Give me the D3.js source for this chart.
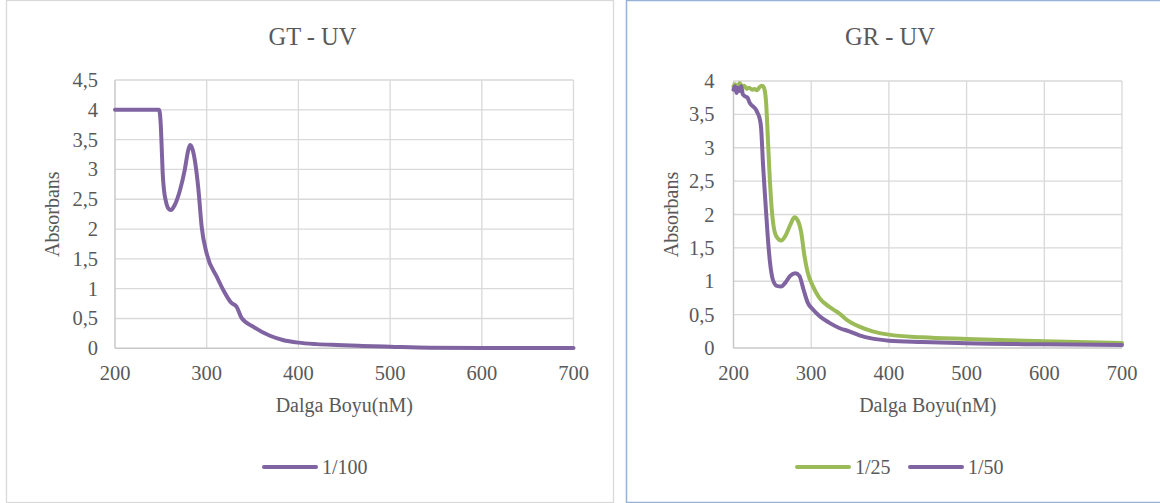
<!DOCTYPE html>
<html><head><meta charset="utf-8">
<script src="https://cdn.jsdelivr.net/npm/d3@7/dist/d3.min.js"></script>
<style>
html,body{margin:0;padding:0;background:#fff;}
svg{display:block;}
</style></head>
<body>
<svg id="c" width="1160" height="503" font-family="'Liberation Serif', 'Times New Roman', 'DejaVu Serif', serif"></svg>
<script>
// ---- data ----
const xTicks = [200, 300, 400, 500, 600, 700];
const yTicksGT = [0, 0.5, 1, 1.5, 2, 2.5, 3, 3.5, 4, 4.5];
const yTicksGR = [0, 0.5, 1, 1.5, 2, 2.5, 3, 3.5, 4];

const gtWave = [200,248,249.8,250.9,252,253.4,255.6,258,261,265,271,276,280,282,284.7,287.6,291,294.5,300,311,318,327,332.5,338,351,369,383,400,420,442,470,500,543,600,650,700];
const gt100  = [4.0,4.0,3.78,3.38,2.94,2.66,2.46,2.35,2.32,2.40,2.66,2.99,3.33,3.41,3.33,3.10,2.66,2.04,1.59,1.2,0.98,0.76,0.70,0.51,0.36,0.21,0.14,0.095,0.07,0.055,0.04,0.027,0.01,0.005,0.004,0.004];

const grWave25 = [200,202,205,208,211,214,217,220,224,227,230,233,236,238,240,242,244,246,248.5,251.4,255.7,261.3,266.8,272.9,278.4,282.7,287,291.3,295.5,302,310.5,323,332,336,345,362,379,400,443,500,600,700];
const gr25     = [3.92,3.95,3.9,3.97,3.92,3.93,3.88,3.9,3.87,3.88,3.86,3.9,3.93,3.92,3.87,3.67,3.2,2.7,2.19,1.84,1.66,1.61,1.68,1.84,1.96,1.91,1.74,1.38,1.13,0.93,0.75,0.62,0.55,0.52,0.43,0.32,0.25,0.20,0.16,0.135,0.10,0.075];

const grWave50 = [200,202,204,206,208,210,212,215,218,221,225,229,231,233.4,235.5,238,241,244,247,250.5,255.7,261.3,266.8,272.9,279.7,284.8,290,295.5,302,310.5,323,336,349,362,379,400,443,500,600,700];
const gr50     = [3.87,3.92,3.82,3.9,3.85,3.92,3.8,3.77,3.75,3.67,3.62,3.57,3.52,3.45,3.3,2.75,2.2,1.68,1.28,1.03,0.93,0.92,0.98,1.08,1.12,1.08,0.88,0.68,0.58,0.48,0.38,0.30,0.25,0.19,0.14,0.11,0.09,0.07,0.055,0.045];

const fmt = d => String(d).replace('.', ',');
const svg = d3.select('#c');
const TXT = '#595959';

function drawChart(cfg) {
  const g = svg.append('g');
  // panel border
  g.append('rect').attr('x', cfg.panel[0]).attr('y', cfg.panel[1])
    .attr('width', cfg.panel[2]).attr('height', cfg.panel[3])
    .attr('fill', '#fff').attr('stroke', cfg.border).attr('stroke-width', cfg.borderW);

  const x = d3.scaleLinear().domain([200, 700]).range(cfg.xr);
  const y = d3.scaleLinear().domain([0, cfg.ymax]).range(cfg.yr);

  // gridlines
  g.append('g').selectAll('line').data(cfg.yTicks.filter(d => d > 0)).join('line')
    .attr('x1', cfg.xr[0]).attr('x2', cfg.xr[1])
    .attr('y1', d => y(d)).attr('y2', d => y(d))
    .attr('stroke', '#d9d9d9').attr('stroke-width', 1.3);
  g.append('g').selectAll('line').data(xTicks.filter(d => d > 200)).join('line')
    .attr('x1', d => x(d)).attr('x2', d => x(d))
    .attr('y1', cfg.yr[0]).attr('y2', cfg.yr[1])
    .attr('stroke', '#d9d9d9').attr('stroke-width', 1.3);
  // axis lines
  g.append('line').attr('x1', cfg.xr[0]).attr('x2', cfg.xr[1]).attr('y1', cfg.yr[0]).attr('y2', cfg.yr[0])
    .attr('stroke', '#c8c8c8').attr('stroke-width', 1.5);
  g.append('line').attr('x1', cfg.xr[0]).attr('x2', cfg.xr[0]).attr('y1', cfg.yr[0]).attr('y2', cfg.yr[1])
    .attr('stroke', '#c8c8c8').attr('stroke-width', 1.5);

  // tick labels
  g.append('g').selectAll('text').data(cfg.yTicks).join('text')
    .attr('x', cfg.xr[0] - cfg.yLabGap).attr('y', d => y(d) + 7)
    .attr('text-anchor', 'end').attr('font-size', 20.5).attr('fill', TXT).text(fmt);
  g.append('g').selectAll('text').data(xTicks).join('text')
    .attr('x', d => x(d)).attr('y', 380)
    .attr('text-anchor', 'middle').attr('font-size', 20.5).attr('fill', TXT).text(d => d);

  // titles
  g.append('text').attr('x', cfg.titleX).attr('y', 45).attr('text-anchor', 'middle')
    .attr('font-size', 24.5).attr('fill', TXT).text(cfg.title);
  g.append('text').attr('x', (cfg.xr[0] + cfg.xr[1]) / 2).attr('y', 412).attr('text-anchor', 'middle')
    .attr('font-size', 20).attr('fill', TXT).text('Dalga Boyu(nM)');
  g.append('text').attr('transform', `translate(${cfg.yTitleX},${(cfg.yr[0] + cfg.yr[1]) / 2}) rotate(-90)`)
    .attr('text-anchor', 'middle').attr('font-size', 20).attr('fill', TXT).text('Absorbans');

  // series
  const line = d3.line().x(d => x(d[0])).y(d => y(d[1])).curve(d3.curveMonotoneX);
  cfg.series.forEach(s => {
    const pts = s.wave.map((w, i) => [w, s.vals[i]]);
    g.append('path').datum(pts).attr('d', line).attr('fill', 'none')
      .attr('stroke', s.color).attr('stroke-width', 4)
      .attr('stroke-linejoin', 'round').attr('stroke-linecap', 'round');
  });

  // legend
  cfg.series.forEach(s => {
    g.append('line').attr('x1', s.leg[0]).attr('x2', s.leg[0] + 52)
      .attr('y1', 467).attr('y2', 467).attr('stroke', s.color).attr('stroke-width', 4)
      .attr('stroke-linecap', 'round');
    g.append('text').attr('x', s.leg[0] + 58).attr('y', 474).attr('font-size', 20)
      .attr('fill', TXT).text(s.name);
  });
}

drawChart({
  panel: [6.5, 0.5, 607, 502], border: '#d9d9d9', borderW: 1.3,
  xr: [115, 573.5], yr: [348.3, 80], ymax: 4.5, yTicks: yTicksGT, yLabGap: 17,
  title: 'GT - UV', titleX: 312.5, yTitleX: 59,
  series: [{ name: '1/100', wave: gtWave, vals: gt100, color: '#8064a2', leg: [264] }]
});
drawChart({
  panel: [626.5, 0.5, 540, 502], border: '#95b3d7', borderW: 1.5,
  xr: [733.5, 1122], yr: [348, 81], ymax: 4, yTicks: yTicksGR, yLabGap: 19,
  title: 'GR - UV', titleX: 890, yTitleX: 678,
  series: [
    { name: '1/25', wave: grWave25, vals: gr25, color: '#9bbb59', leg: [797] },
    { name: '1/50', wave: grWave50, vals: gr50, color: '#8064a2', leg: [910] }
  ]
});
</script>
</body></html>
